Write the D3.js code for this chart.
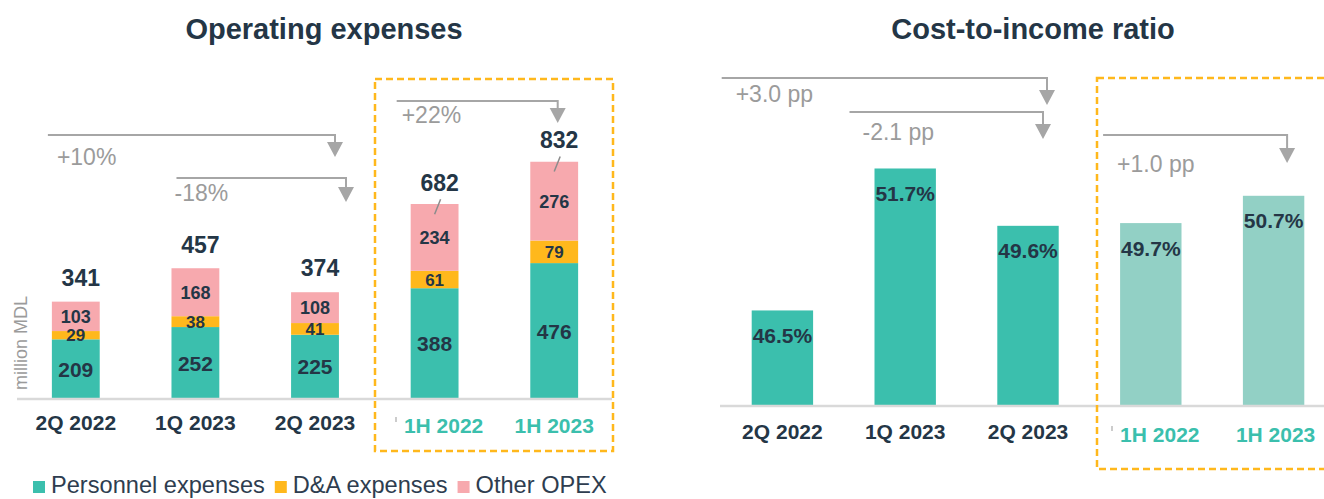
<!DOCTYPE html>
<html>
<head>
<meta charset="utf-8">
<script src="https://cdn.jsdelivr.net/npm/d3@7"></script>
<style>
  html, body { margin: 0; padding: 0; background: #fff; }
  svg { display: block; font-family: "Liberation Sans", Arial, sans-serif; }
</style>
</head>
<body>
<div id="chart"></div>
<script>
const categories = ["2Q 2022", "1Q 2023", "2Q 2023", "1H 2022", "1H 2023"];
const halfYear = ["1H 2022", "1H 2023"];

const personnel = [209, 252, 225, 388, 476];
const depreciation = [29, 38, 41, 61, 79];
const otherOpex = [103, 168, 108, 234, 276];
const totals = [341, 457, 374, 682, 832];

const costIncome = [46.5, 51.7, 49.6, 49.7, 50.7];

const seriesNames = ["Personnel expenses", "D&A expenses", "Other OPEX"];

const opexDeltas = [
  { from: "2Q 2022", to: "2Q 2023", label: "+10%" },
  { from: "1Q 2023", to: "2Q 2023", label: "-18%" },
  { from: "1H 2022", to: "1H 2023", label: "+22%" },
];
const cirDeltas = [
  { from: "2Q 2022", to: "2Q 2023", label: "+3.0 pp" },
  { from: "1Q 2023", to: "2Q 2023", label: "-2.1 pp" },
  { from: "1H 2022", to: "1H 2023", label: "+1.0 pp" },
];

const W = 1324, H = 499;
const teal = "#3bbfad";
const lightTeal = "#92d0c5";
const orange = "#ffb81c";
const pink = "#f7a9ae";
const dark = "#243646";
const grey = "#a6a6a6";
const seriesColors = [teal, orange, pink];

const svg = d3.select("#chart").append("svg").attr("width", W).attr("height", H);

// titles
svg.append("text").attr("x", 324).attr("y", 39).attr("text-anchor", "middle")
  .style("font-size", "29px").style("font-weight", "bold").style("fill", dark)
  .text("Operating expenses");
svg.append("text").attr("x", 1033).attr("y", 39).attr("text-anchor", "middle")
  .style("font-size", "29px").style("font-weight", "bold").style("fill", dark)
  .text("Cost-to-income ratio");

// bracket arrow helper
function drawBracket(g, x1, x2, lineY, tipY, label, lx, ly) {
  const triH = 15, triW = 16;
  g.append("path")
    .attr("d", `M${x1},${lineY}H${x2}V${tipY - triH}`)
    .attr("fill", "none").attr("stroke", grey).attr("stroke-width", 2);
  g.append("path")
    .attr("d", `M${x2 - triW / 2},${tipY - triH}L${x2 + triW / 2},${tipY - triH}L${x2},${tipY}Z`)
    .attr("fill", grey);
  g.append("text").attr("x", lx).attr("y", ly)
    .style("font-size", "23px").style("fill", "#9b9b9b").text(label);
}

// ---------- Operating expenses ----------
const left = svg.append("g");
const x1 = d3.scaleBand().domain(categories).range([16, 614]).paddingInner(0.6).paddingOuter(0.3);
const y1 = d3.scaleLinear().domain([0, 1000]).range([399, 113.5]);

const rows = categories.map((c, i) => ({
  cat: c, personnel: personnel[i], depreciation: depreciation[i], other: otherOpex[i], total: totals[i],
}));
const keys = ["personnel", "depreciation", "other"];
const stacked = d3.stack().keys(keys)(rows);
const labelSizes = [21, 17, 18];

stacked.forEach((layer, k) => {
  left.append("g").selectAll("rect").data(layer).join("rect")
    .attr("x", (d) => x1(d.data.cat))
    .attr("y", (d) => y1(d[1]))
    .attr("width", x1.bandwidth())
    .attr("height", (d) => y1(d[0]) - y1(d[1]))
    .attr("fill", seriesColors[k]);
});
stacked.forEach((layer, k) => {
  left.append("g").selectAll("text").data(layer).join("text")
    .attr("x", (d) => x1(d.data.cat) + x1.bandwidth() / 2)
    .attr("y", (d) => (y1(d[0]) + y1(d[1])) / 2 + labelSizes[k] * 0.36)
    .attr("text-anchor", "middle")
    .style("font-size", labelSizes[k] + "px").style("font-weight", "bold").style("fill", dark)
    .text((d) => d.data[keys[k]]);
});

// totals
left.append("g").selectAll("text").data(rows).join("text")
  .attr("x", (d) => x1(d.cat) + x1.bandwidth() / 2 + 5)
  .attr("y", (d) => y1(d.total) - (halfYear.includes(d.cat) ? 13 : 16))
  .attr("text-anchor", "middle")
  .style("font-size", "23px").style("font-weight", "bold").style("fill", dark)
  .text((d) => d.total);

// leader ticks for half-year totals
left.append("g").selectAll("line").data(rows.filter((d) => halfYear.includes(d.cat))).join("line")
  .attr("x1", (d) => x1(d.cat) + x1.bandwidth() / 2 + 6)
  .attr("y1", (d) => y1(d.total) - 5)
  .attr("x2", (d) => x1(d.cat) + x1.bandwidth() / 2)
  .attr("y2", (d) => y1(d.total) + 10)
  .attr("stroke", "#8c8c8c").attr("stroke-width", 1.5);

// baseline
left.append("line").attr("x1", 17).attr("x2", 612).attr("y1", 399).attr("y2", 399)
  .attr("stroke", "#d9d9d9").attr("stroke-width", 2.5);

// x labels
left.append("g").selectAll("text").data(categories).join("text")
  .attr("x", (d) => x1(d) + x1.bandwidth() / 2 + (d === "1H 2022" ? 9 : 0))
  .attr("y", (d) => (halfYear.includes(d) ? 433 : 430))
  .attr("text-anchor", "middle")
  .style("font-size", "21px").style("font-weight", "bold")
  .style("fill", (d) => (halfYear.includes(d) ? teal : dark))
  .text((d) => d);
left.append("line").attr("x1", 396).attr("x2", 396).attr("y1", 417).attr("y2", 422)
  .attr("stroke", "#999").attr("stroke-width", 1);

// y axis title
left.append("text").attr("transform", "translate(27,343) rotate(-90)")
  .attr("text-anchor", "middle").style("font-size", "18px").style("fill", "#9b9b9b")
  .text("million MDL");

// brackets
const leftBr = [
  { dx1: -4, dx2: 20, lineY: 135, tipY: 157, lx: 9, ly: 165 },
  { dx1: 5, dx2: 31, lineY: 178, tipY: 202, lx: -2, ly: 201 },
  { dx1: -14, dx2: 3.5, lineY: 101, tipY: 123, lx: 5, ly: 123 },
];
opexDeltas.forEach((d, i) => {
  const b = leftBr[i];
  const sx = x1(d.from) + b.dx1;
  const ex = x1(d.to) + x1.bandwidth() / 2 + b.dx2;
  drawBracket(left, sx, ex, b.lineY, b.tipY, d.label, sx + b.lx, b.ly);
});

// highlight box
left.append("rect").attr("x", 375).attr("y", 79).attr("width", 238).attr("height", 372)
  .attr("fill", "none").attr("stroke", orange).attr("stroke-width", 2.5)
  .attr("stroke-dasharray", "7,4");

// legend
const legend = left.append("g");
let lx = 33;
seriesNames.forEach((name, k) => {
  legend.append("rect").attr("x", lx).attr("y", 481).attr("width", 12).attr("height", 12)
    .attr("fill", seriesColors[k]);
  const t = legend.append("text").attr("x", lx + 18).attr("y", 493)
    .style("font-size", "23.6px").style("fill", "#2e3d4f").text(name);
  lx += 18 + t.node().getComputedTextLength() + 10;
});

// ---------- Cost-to-income ratio ----------
const right = svg.append("g");
const x2 = d3.scaleBand().domain(categories).range([721, 1335]).paddingInner(0.5).paddingOuter(0.25);
const y2 = d3.scaleLinear().domain([43, 53]).range([406, 133]);
const cir = categories.map((c, i) => ({ cat: c, value: costIncome[i] }));

right.append("g").selectAll("rect").data(cir).join("rect")
  .attr("x", (d) => x2(d.cat))
  .attr("y", (d) => y2(d.value))
  .attr("width", x2.bandwidth())
  .attr("height", (d) => y2(43) - y2(d.value))
  .attr("fill", (d) => (halfYear.includes(d.cat) ? lightTeal : teal));

right.append("g").selectAll("text").data(cir).join("text")
  .attr("x", (d) => x2(d.cat) + x2.bandwidth() / 2)
  .attr("y", (d) => y2(d.value) + 32.5)
  .attr("text-anchor", "middle")
  .style("font-size", "21px").style("font-weight", "bold").style("fill", dark)
  .text((d) => d.value.toFixed(1) + "%");

right.append("line").attr("x1", 720).attr("x2", 1324).attr("y1", 406).attr("y2", 406)
  .attr("stroke", "#d9d9d9").attr("stroke-width", 2.5);

right.append("g").selectAll("text").data(categories).join("text")
  .attr("x", (d) => x2(d) + x2.bandwidth() / 2 + (d === "1H 2022" ? 9 : d === "1H 2023" ? 2 : 0))
  .attr("y", (d) => (halfYear.includes(d) ? 442 : 439))
  .attr("text-anchor", "middle")
  .style("font-size", "21px").style("font-weight", "bold")
  .style("fill", (d) => (halfYear.includes(d) ? teal : dark))
  .text((d) => d);
right.append("line").attr("x1", 1112).attr("x2", 1112).attr("y1", 426).attr("y2", 431)
  .attr("stroke", "#999").attr("stroke-width", 1);

const rightBr = [
  { dx1: -30, dx2: 19, lineY: 78, tipY: 105, lx: 14, ly: 102 },
  { dx1: -25, dx2: 15, lineY: 112, tipY: 139, lx: 13, ly: 140 },
  { dx1: -17, dx2: 13.5, lineY: 135, tipY: 163, lx: 14, ly: 172 },
];
cirDeltas.forEach((d, i) => {
  const b = rightBr[i];
  const sx = x2(d.from) + b.dx1;
  const ex = x2(d.to) + x2.bandwidth() / 2 + b.dx2;
  drawBracket(right, sx, ex, b.lineY, b.tipY, d.label, sx + b.lx, b.ly);
});

right.append("rect").attr("x", 1097).attr("y", 78).attr("width", 260).attr("height", 391)
  .attr("fill", "none").attr("stroke", orange).attr("stroke-width", 2.5)
  .attr("stroke-dasharray", "7,4");
</script>
</body>
</html>
